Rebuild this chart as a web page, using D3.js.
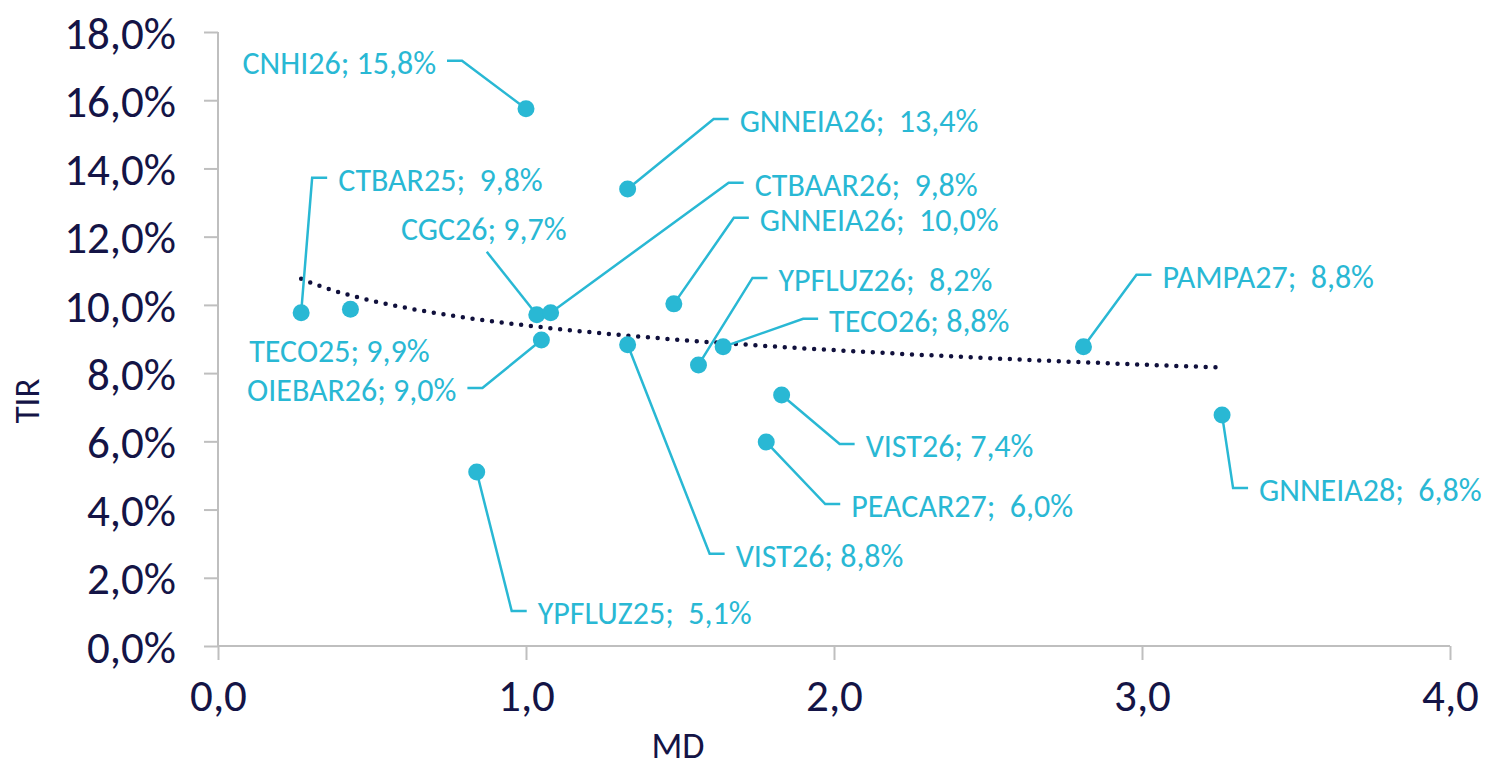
<!DOCTYPE html>
<html>
<head>
<meta charset="utf-8">
<script src="https://cdn.jsdelivr.net/npm/d3@7"></script>
<style>
  body { margin: 0; background: #fff; }
  svg text { font-family: Carlito, Calibri, Lato, sans-serif; }
</style>
</head>
<body>
<div class="chart"></div>
<script>
// bonds: modified duration (MD) vs yield (TIR, %)
var names = ["CNHI26", "GNNEIA26", "CTBAR25", "TECO25", "CGC26", "CTBAAR26", "OIEBAR26", "GNNEIA26",
             "VIST26", "YPFLUZ26", "TECO26", "PAMPA27", "VIST26", "PEACAR27", "GNNEIA28", "YPFLUZ25"]
var md  = [1.00, 1.33, 0.27, 0.43, 1.035, 1.08, 1.05, 1.48, 1.33, 1.56, 1.64, 2.81, 1.83, 1.78, 3.26, 0.84]
var tir = [15.75, 13.4, 9.77, 9.87, 9.71, 9.77, 8.97, 10.03, 8.83, 8.24, 8.77, 8.77, 7.36, 5.98, 6.77, 5.1]
var labels = ["CNHI26; 15,8%", "GNNEIA26;  13,4%", "CTBAR25;  9,8%", "TECO25; 9,9%", "CGC26; 9,7%",
              "CTBAAR26;  9,8%", "OIEBAR26; 9,0%", "GNNEIA26;  10,0%", "VIST26; 8,8%", "YPFLUZ26;  8,2%",
              "TECO26; 8,8%", "PAMPA27;  8,8%", "VIST26; 7,4%", "PEACAR27;  6,0%", "GNNEIA28;  6,8%", "YPFLUZ25;  5,1%"]
var xTicks = [0, 1, 2, 3, 4]
var yTicks = [0, 2, 4, 6, 8, 10, 12, 14, 16, 18]

// label placement: elbow offset from the point (px) and side of the text
// side "r" text right of elbow, "l" text left, "n" no leader (offset = text centre), "t" text above with straight leader
var labelPos = [
  {side: "l", dx: -64, dy: -48},
  {side: "r", dx: 86, dy: -70},
  {side: "r", dx: 11, dy: -135},
  {side: "n", dx: -11, dy: 39},
  {side: "t", dx: -53, dy: -88},
  {side: "r", dx: 178, dy: -130},
  {side: "l", dx: -59, dy: 48},
  {side: "r", dx: 60, dy: -86},
  {side: "r", dx: 82, dy: 209},
  {side: "r", dx: 54, dy: -87},
  {side: "r", dx: 80, dy: -28},
  {side: "r", dx: 53, dy: -72},
  {side: "r", dx: 58, dy: 49},
  {side: "r", dx: 59, dy: 62},
  {side: "r", dx: 11, dy: 73},
  {side: "r", dx: 35, dy: 139}
]

var width = 1488, height = 770
var cyan = "#29b8d4", navy = "#141446", grid = "#bfbfbf"

var svg = d3.select(".chart").append("svg")
    .attr("width", width)
    .attr("height", height)

var x = d3.scaleLinear().domain([0, 4]).range([218, 1450])
var y = d3.scaleLinear().domain([0, 18]).range([646, 32])

var fmt = d3.formatLocale({decimal: ",", thousands: ".", grouping: [3], currency: ["", ""]})

// axes
var yAxis = svg.append("g")
    .attr("transform", "translate(218,0)")
    .call(d3.axisLeft(y).tickValues(yTicks).tickSize(14).tickPadding(28)
        .tickFormat(d => fmt.format(".1f")(d) + "%"))
var xAxis = svg.append("g")
    .attr("transform", "translate(0,646)")
    .call(d3.axisBottom(x).tickValues(xTicks).tickSize(14).tickPadding(42)
        .tickFormat(fmt.format(".1f")))

svg.selectAll(".domain").attr("stroke", grid).attr("stroke-width", 2)
    .attr("d", function () { return this.parentNode === yAxis.node() ? "M0,32V646" : "M218,0H1450" })
svg.selectAll(".tick line").attr("stroke", grid).attr("stroke-width", 2)
svg.selectAll(".tick text")
    .attr("fill", navy)
    .style("font-size", "45px")
yAxis.selectAll(".tick text").attr("dy", "0.36em")
xAxis.selectAll(".tick text").attr("dy", "0.2em")

svg.append("text")
    .attr("transform", "translate(39,401) rotate(-90)")
    .attr("text-anchor", "middle")
    .attr("fill", navy)
    .style("font-size", "35px")
    .text("TIR")
svg.append("text")
    .attr("x", 678)
    .attr("y", 758)
    .attr("text-anchor", "middle")
    .attr("fill", navy)
    .style("font-size", "36px")
    .text("MD")

// logarithmic trend line (least squares on ln(MD))
var lx = md.map(Math.log)
var mlx = d3.mean(lx), my = d3.mean(tir)
var b = d3.sum(lx, (v, i) => (v - mlx) * (tir[i] - my)) / d3.sum(lx, v => (v - mlx) * (v - mlx))
var a = my - b * mlx
var xs = d3.range(0, 101).map(i => d3.min(md) + (d3.max(md) - d3.min(md)) * i / 100)
svg.append("path")
    .datum(xs)
    .attr("fill", "none")
    .attr("stroke", "#10103c")
    .attr("stroke-width", 4.5)
    .attr("stroke-linecap", "round")
    .attr("stroke-dasharray", "0 9.8")
    .attr("d", d3.line().x(d => x(d)).y(d => y(a + b * Math.log(d))))

// leader lines
var idx = d3.range(names.length)
var gap = 11, seg = 15
svg.append("g")
    .attr("fill", "none")
    .attr("stroke", cyan)
    .attr("stroke-width", 2.5)
    .selectAll("path")
    .data(idx.filter(i => labelPos[i].side !== "n")).enter()
    .append("path")
    .attr("d", i => {
        var p = labelPos[i], px = x(md[i]), py = y(tir[i])
        var ex = px + p.dx, ey = py + p.dy
        if (p.side === "t") return `M${px},${py}L${ex + 3},${ey + 25}`
        var hx = p.side === "r" ? ex + seg : ex - seg
        return `M${px},${py}L${ex},${ey}L${hx},${ey}`
    })

// points
svg.append("g")
    .selectAll("circle")
    .data(idx).enter()
    .append("circle")
    .attr("cx", i => x(md[i]))
    .attr("cy", i => y(tir[i]))
    .attr("r", 8.5)
    .attr("fill", cyan)

// labels
svg.append("g")
    .attr("fill", cyan)
    .selectAll("text")
    .data(idx).enter()
    .append("text")
    .style("font-size", "32px")
    .style("white-space", "pre")
    .attr("dy", "0.35em")
    .attr("text-anchor", i => {
        var s = labelPos[i].side
        return s === "r" ? "start" : s === "l" ? "end" : "middle"
    })
    .attr("x", i => {
        var p = labelPos[i], ex = x(md[i]) + p.dx
        if (p.side === "r") return ex + seg + gap
        if (p.side === "l") return ex - seg - gap
        return ex
    })
    .attr("y", i => y(tir[i]) + labelPos[i].dy + 2)
    .text(i => labels[i])
</script>
</body>
</html>
